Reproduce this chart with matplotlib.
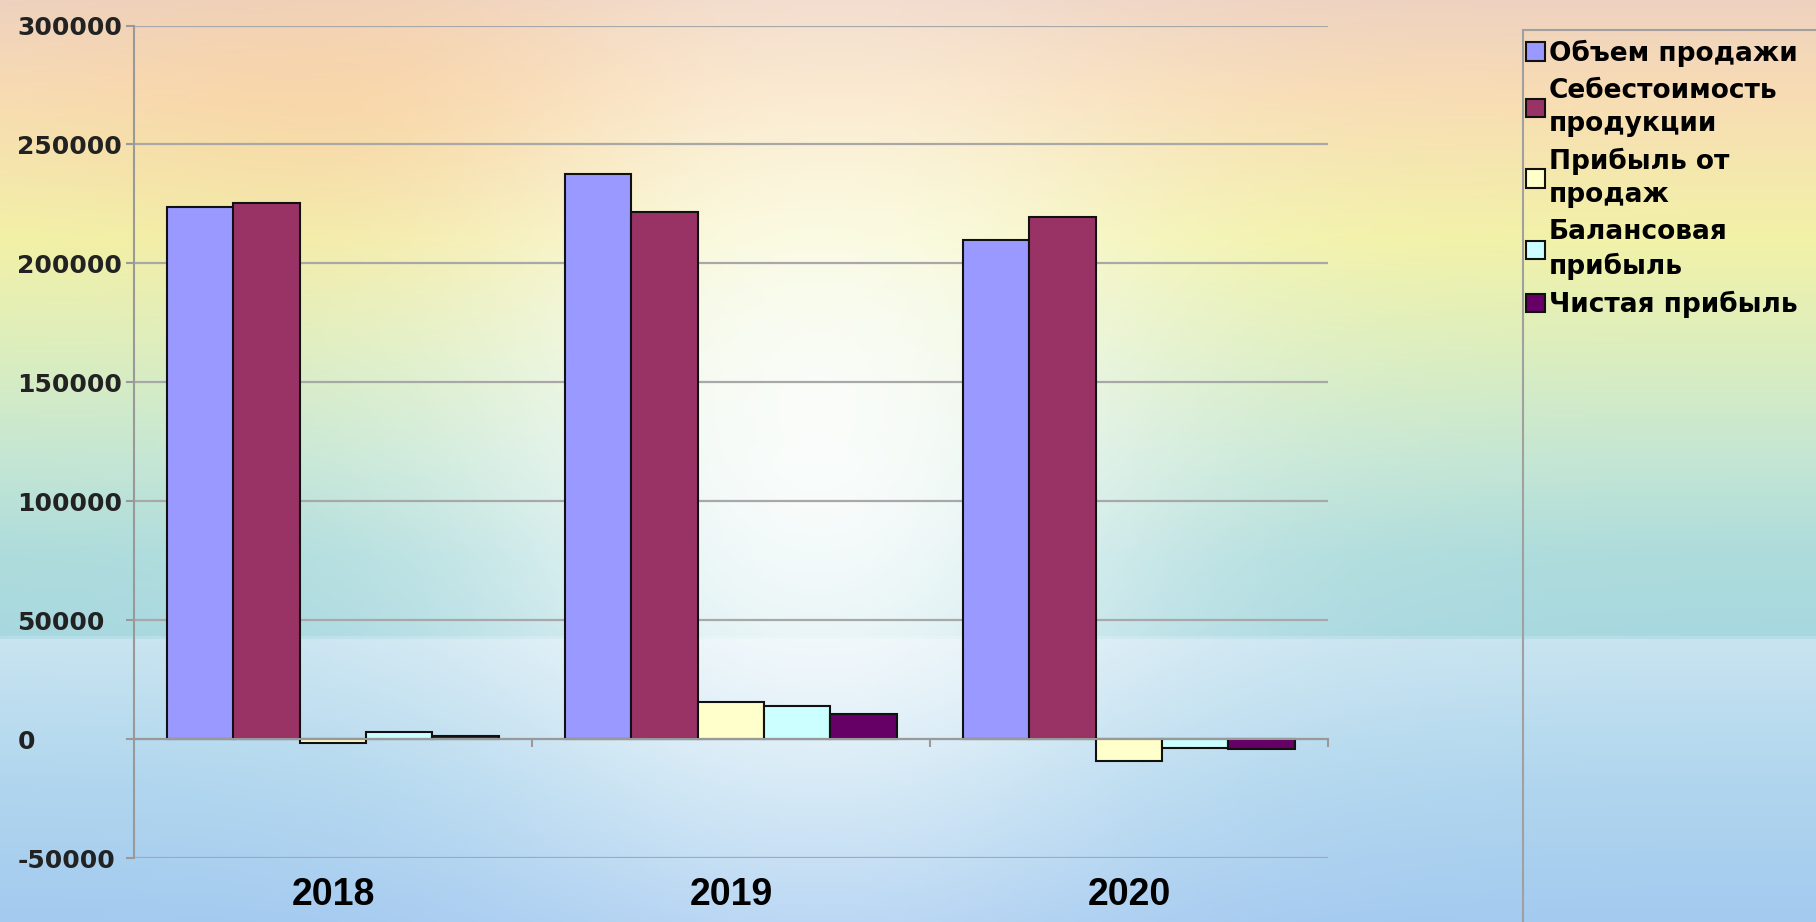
"""
Grouped bar chart: sales, cost and profit indicators 2018-2020.
"""

import matplotlib.pyplot as plt
import numpy as np
from matplotlib.colors import to_rgb
from matplotlib.lines import Line2D

years = ["2018", "2019", "2020"]
series_names = [
    "Объем продажи",
    "Себестоимость\nпродукции",
    "Прибыль от\nпродаж",
    "Балансовая\nприбыль",
    "Чистая прибыль",
]
sales = [223500, 237600, 209800]
cost = [225400, 221500, 219600]
sales_profit = [-1700, 15500, -9400]
balance_profit = [2900, 14100, -3800]
net_profit = [1500, 10600, -4200]
series_values = [sales, cost, sales_profit, balance_profit, net_profit]
series_colors = ["#9999FF", "#993366", "#FFFFCC", "#CCFFFF", "#660066"]
y_ticks = [-50000, 0, 50000, 100000, 150000, 200000, 250000, 300000]

W, H = 1816, 922
fig = plt.figure(figsize=(W / 100, H / 100), dpi=100)

# --- background: vertical colour bands + soft white glow in the middle ---
stops = [
    (0.00, "#EED2C0"),
    (0.10, "#F8DCB4"),
    (0.26, "#F2F2A8"),
    (0.38, "#DCEEBE"),
    (0.50, "#C4E6D4"),
    (0.60, "#AEDCDC"),
    (0.69, "#A8D8E0"),
    (0.695, "#C8E4F0"),
    (0.85, "#B0D6EE"),
    (1.00, "#A4CAF0"),
]
ny, nx = 300, 600
yy = np.linspace(0, 1, ny)
xx = np.linspace(0, 1, nx)
pos = [s[0] for s in stops]
cols = np.array([to_rgb(s[1]) for s in stops])
col_v = np.stack([np.interp(yy, pos, cols[:, k]) for k in range(3)], axis=1)
img = np.repeat(col_v[:, None, :], nx, axis=1)
X, Y = np.meshgrid(xx, yy)
# warm orange spot upper left
warm = np.exp(-(((X - 0.22) / 0.16) ** 2 + ((Y - 0.12) / 0.16) ** 2))
img = img * (1 - 0.4 * warm[..., None]) + 0.4 * warm[..., None] * np.array(to_rgb("#F8C890"))
glow = np.exp(-(((X - 0.45) / 0.19) ** 2 + ((Y - 0.5) / 0.45) ** 2))
img = img * (1 - 0.9 * glow[..., None]) + 0.9 * glow[..., None]
bg = fig.add_axes([0, 0, 1, 1], zorder=-1)
bg.imshow(img, extent=[0, 1, 0, 1], aspect="auto", origin="upper")
bg.axis("off")

# --- main axes ---
ax = fig.add_axes([134 / W, 64 / H, (1328 - 134) / W, (858 - 25.5) / H])
ax.set_facecolor("none")

x = np.arange(len(years))
width = 1 / 6
for i, (vals, col) in enumerate(zip(series_values, series_colors)):
    ax.bar(x + (i - 2) * width, vals, width, color=col, edgecolor="#111111",
           linewidth=1.5, label=series_names[i], zorder=3)

ax.set_xlim(-0.5, 2.5)
ax.set_ylim(-50000, 300000)
ax.set_yticks(y_ticks)
ax.set_yticklabels([str(t) for t in y_ticks], fontsize=18, fontweight="bold",
                   family="DejaVu Sans", color="#222222")
ax.tick_params(axis="y", length=6, width=1.5, color="#999999", pad=78)
for lbl in ax.get_yticklabels():
    lbl.set_horizontalalignment("left")
ax.grid(axis="y", color="#A8A8A8", linewidth=1.6, zorder=1)

for side in ["top", "right"]:
    ax.spines[side].set_visible(False)
ax.spines["left"].set_color("#999999")
ax.spines["left"].set_linewidth(1.5)
ax.spines["bottom"].set_position(("data", 0))
ax.spines["bottom"].set_color("#999999")
ax.spines["bottom"].set_linewidth(1.5)
ax.spines["bottom"].set_zorder(4)
ax.set_xticks(x)
ax.set_xticklabels([])
ax.tick_params(axis="x", which="major", length=0)
ax.set_xticks([0.5, 1.5, 2.5], minor=True)
ax.tick_params(axis="x", which="minor", length=6, width=1.5, color="#999999",
               direction="out")

sec = ax.secondary_xaxis(0)
sec.set_xticks(x)
sec.set_xticklabels(years, fontsize=27, fontweight="bold",
                    family=["Liberation Sans Narrow", "Liberation Sans", "DejaVu Sans"])
sec.tick_params(length=0, pad=14)
sec.spines["bottom"].set_visible(False)

# --- legend with a partial frame (top + left edges) ---
leg = fig.legend(loc="upper left", bbox_to_anchor=(1508 / W, 1 - 21 / H),
                 frameon=False, prop={"family": "DejaVu Sans", "weight": "bold",
                                      "size": 19},
                 handlelength=0.7, handleheight=0.7, handletextpad=0.15,
                 labelspacing=0.42, borderpad=0.2)
for t in leg.get_texts():
    t.set_linespacing(1.35)
fig.add_artist(Line2D([1523 / W, 1523 / W], [0, 1 - 30 / H], color="#A0A0A0",
                      linewidth=1.5))
fig.add_artist(Line2D([1523 / W, 1], [1 - 30 / H, 1 - 30 / H], color="#A0A0A0",
                      linewidth=1.5))

fig.savefig("out.png", dpi=100)
plt.close(fig)
